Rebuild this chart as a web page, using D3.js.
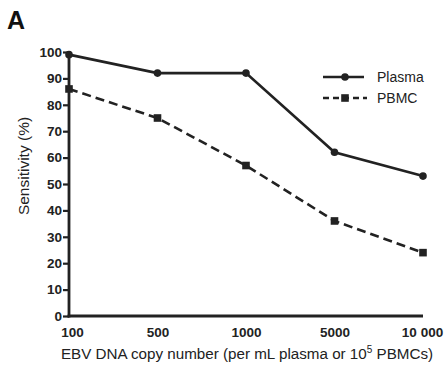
<!DOCTYPE html>
<html>
<head>
<meta charset="utf-8" />
<style>
body { margin: 0; background: #fff; }
svg { font-family: "Liberation Sans", Arial, sans-serif; }
.tick text { font-size: 13.5px; font-weight: bold; fill: #222; }
</style>
</head>
<body>
<div id="chart"></div>
<script src="https://d3js.org/d3.v7.min.js"></script>
<script>
var categories = ["100", "500", "1000", "5000", "10 000"];
var plasma = [99, 92, 92, 62, 53];
var pbmc = [86, 75, 57, 36, 24];
var yTicks = [0, 10, 20, 30, 40, 50, 60, 70, 80, 90, 100];

var W = 445, H = 367;
var x0 = 69, x1 = 423, yTop = 52, yBot = 316;

var svg = d3.select("#chart").append("svg")
  .attr("width", W)
  .attr("height", H);

var x = d3.scalePoint()
  .domain(categories)
  .range([x0, x1]);

var y = d3.scaleLinear()
  .domain([0, 100])
  .range([yBot, yTop]);

// y axis
var yAxis = d3.axisLeft(y).tickValues(yTicks).tickSize(6).tickPadding(1);
var gy = svg.append("g")
  .attr("transform", "translate(" + x0 + ",0)")
  .call(yAxis);
gy.select(".domain").attr("stroke", "#222").attr("stroke-width", 2.8)
  .attr("d", "M0," + (yBot + 1.4) + "V" + (yTop - 1));
gy.selectAll(".tick line").attr("stroke", "#222").attr("stroke-width", 2.2);

// x axis (labels only, no tick marks)
var xAxis = d3.axisBottom(x).tickSize(0).tickPadding(11);
var gx = svg.append("g")
  .attr("transform", "translate(0," + yBot + ")")
  .call(xAxis);
gx.select(".domain").attr("stroke", "#222").attr("stroke-width", 2.8)
  .attr("d", "M" + (x0 - 1.4) + ",0H" + x1);
gx.selectAll(".tick text").attr("dx", function(d, i) { return i === 0 ? 3 : (i === 4 ? -1 : 0); });

var line = d3.line()
  .x(function(d, i) { return x(categories[i]); })
  .y(function(d) { return y(d); });

// Plasma
svg.append("path")
  .datum(plasma)
  .attr("d", line)
  .attr("fill", "none")
  .attr("stroke", "#222")
  .attr("stroke-width", 2.6);
svg.selectAll(".dot-plasma").data(plasma).enter().append("circle")
  .attr("cx", function(d, i) { return x(categories[i]); })
  .attr("cy", function(d) { return y(d); })
  .attr("r", 3.8)
  .attr("fill", "#222");

// PBMC
svg.append("path")
  .datum(pbmc)
  .attr("d", line)
  .attr("fill", "none")
  .attr("stroke", "#222")
  .attr("stroke-width", 2.6)
  .attr("stroke-dasharray", "9,5");
svg.selectAll(".dot-pbmc").data(pbmc).enter().append("rect")
  .attr("x", function(d, i) { return x(categories[i]) - 3.8; })
  .attr("y", function(d) { return y(d) - 3.8; })
  .attr("width", 7.6)
  .attr("height", 7.6)
  .attr("fill", "#222");

// legend
var legend = svg.append("g");
legend.append("line").attr("x1", 323).attr("x2", 364).attr("y1", 77).attr("y2", 77)
  .attr("stroke", "#222").attr("stroke-width", 2.4);
legend.append("circle").attr("cx", 345).attr("cy", 77).attr("r", 3.8).attr("fill", "#222");
legend.append("text").attr("x", 377).attr("y", 82).attr("font-size", 14).attr("fill", "#222").text("Plasma");

legend.append("line").attr("x1", 323).attr("x2", 367).attr("y1", 98).attr("y2", 98)
  .attr("stroke", "#222").attr("stroke-width", 2.4).attr("stroke-dasharray", "6,4");
legend.append("rect").attr("x", 341.2).attr("y", 94.2).attr("width", 7.6).attr("height", 7.6).attr("fill", "#222");
legend.append("text").attr("x", 377).attr("y", 103).attr("font-size", 14).attr("fill", "#222").text("PBMC");

// axis titles
svg.append("text")
  .attr("transform", "translate(29,166) rotate(-90)")
  .attr("text-anchor", "middle")
  .attr("font-size", 15.5)
  .attr("fill", "#222")
  .text("Sensitivity (%)");

var xt = svg.append("text")
  .attr("x", 247)
  .attr("y", 359)
  .attr("text-anchor", "middle")
  .attr("font-size", 15.2)
  .attr("fill", "#222");
xt.append("tspan").text("EBV DNA copy number (per mL plasma or 10");
xt.append("tspan").attr("font-size", 10).attr("dy", -6).text("5");
xt.append("tspan").attr("dy", 6).text(" PBMCs)");

// panel label
svg.append("text")
  .attr("x", 7)
  .attr("y", 29)
  .attr("font-size", 25)
  .attr("font-weight", "bold")
  .attr("fill", "#111")
  .text("A");
</script>
</body>
</html>
